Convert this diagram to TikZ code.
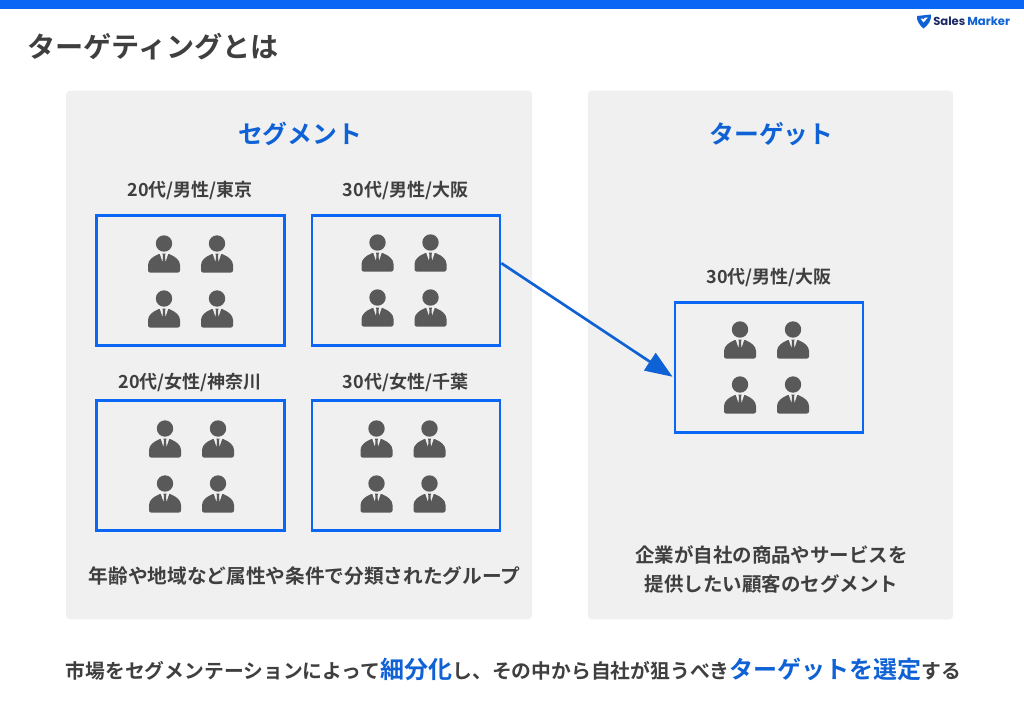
\documentclass[tikz,border=0pt]{standalone}
\usepackage{fontspec}
\setmainfont{Noto Sans CJK JP}[BoldFont={Noto Sans CJK JP Bold}]
\newfontfamily\logofont{Poppins}[BoldFont={Poppins Bold}]
\usetikzlibrary{arrows.meta}
\definecolor{topblue}{HTML}{0A66F5}
\definecolor{headblue}{HTML}{0F62D6}
\definecolor{panel}{HTML}{F0F0F0}
\definecolor{ink}{HTML}{3F3F3F}
\definecolor{figure}{HTML}{595959}
\definecolor{logonavy}{HTML}{1E2A66}
\tikzset{
  x=0.75pt,y=-0.75pt,
  panelbox/.style={fill=panel,draw=none,rounded corners=3pt,inner sep=0pt},
  groupbox/.style={draw=topblue,line width=1.8pt,fill=none,minimum width=141.2pt,minimum height=97.5pt,inner sep=0pt},
  grouplabel/.style={font=\bfseries\fontsize{13.5pt}{16pt}\selectfont,text=ink,inner sep=0pt},
  panelhead/.style={font=\bfseries\fontsize{18.6pt}{22pt}\selectfont,text=headblue,inner sep=0pt},
  bodytext/.style={font=\bfseries\fontsize{14.75pt}{22pt}\selectfont,text=ink,inner sep=0pt,align=center},
  flow/.style={draw=headblue,line width=2pt,-{Triangle[length=20.5pt,width=15.5pt]},shorten >=1pt},
  person/.pic={
    \fill[figure] (0,-8.5) circle[radius=8.2];
    \fill[figure,rounded corners=1.5pt] (-16,20.5) -- (-16,15)
      .. controls (-16,8) and (-11,4.5) .. (-4,1.5) -- (4,1.5)
      .. controls (11,4.5) and (16,8) .. (16,15) -- (16,20.5) -- cycle;
    \fill[panel] (-4.4,1.2) -- (4.4,1.2) -- (1.8,9) -- (-1.8,9) -- cycle;
    \fill[figure] (-1.6,1.5) -- (1.6,1.5) -- (1,4) -- (1.7,13) -- (0,16) -- (-1.7,13) -- (-1,4) -- cycle;
  }
}
\newcommand{\fourpeople}[2]{%
  \pic at (#1-26.5,#2) {person};
  \pic at (#1+26.5,#2) {person};
  \pic at (#1-26.5,#2+55) {person};
  \pic at (#1+26.5,#2+55) {person};
}
\begin{document}
\begin{tikzpicture}
\useasboundingbox (0,0) rectangle (1024,708);
\fill[white] (0,0) rectangle (1024,708);
\fill[topblue] (0,0) rectangle (1024,9);

% logo
\fill[headblue] (917,16) -- (931,14.5) .. controls (931.5,21) and (928,25) .. (923.5,28.5) .. controls (919.5,25) and (916.5,21) .. (917,16) -- cycle;
\fill[white] (920.5,18.5) -- (923.5,22.5) -- (928,17.5) -- (925,17.5) -- (923.5,19.5) -- (922.5,18.5) -- cycle;
\node[anchor=west,inner sep=0pt,font=\logofont\bfseries\fontsize{8.7pt}{11pt}\selectfont] (logo) at (933,21.5) {\textcolor{logonavy}{Sales}\hspace{1.5pt}\textcolor{headblue}{Marker}};

\node[anchor=west,inner sep=0pt,text=ink,font=\bfseries\fontsize{21.1pt}{24pt}\selectfont] (title) at (27,47) {ターゲティングとは};

% panels
\node[panelbox,minimum width=349.5pt,minimum height=396.5pt] (seg) at (299,355) {};
\node[panelbox,minimum width=274pt,minimum height=396.5pt] (tgt) at (770.5,355) {};

\node[panelhead] (seghead) at (300,134) {セグメント};
\node[panelhead] (tgthead) at (771.5,134) {ターゲット};

% group labels
\node[grouplabel] (l1) at (190,190) {20代/男性/東京};
\node[grouplabel] (l2) at (405.5,190) {30代/男性/大阪};
\node[grouplabel] (l3) at (190,382) {20代/女性/神奈川};
\node[grouplabel] (l4) at (405.5,382) {30代/女性/千葉};
\node[grouplabel] (l5) at (769,277) {30代/男性/大阪};

% group boxes
\node[groupbox] (b1) at (190.5,280.5) {};
\node[groupbox] (b2) at (406,280.5) {};
\node[groupbox] (b3) at (190.5,465.5) {};
\node[groupbox] (b4) at (406,465.5) {};
\node[groupbox] (b5) at (769,367.5) {};

\fourpeople{190.5}{252}
\fourpeople{404}{251}
\fourpeople{191.5}{437}
\fourpeople{403}{437}
\fourpeople{766.5}{338}

% connector
\coordinate (from) at ([yshift=13pt]b2.east);
\coordinate (to) at ([yshift=-7.5pt]b5.west);
\draw[flow] (from) -- (to);

\node[bodytext] (segtext) at (304.5,576) {年齢や地域など属性や条件で分類されたグループ};
\node[bodytext,font=\bfseries\fontsize{14.6pt}{22pt}\selectfont] (tgttext) at (771.5,569.5) {企業が自社の商品やサービスを\\提供したい顧客のセグメント};

\node[inner sep=0pt,text=ink,font=\bfseries\fontsize{14.85pt}{18pt}\selectfont] (summary) at (513.5,669)
 {市場をセグメンテーションによって{\fontsize{18pt}{18pt}\selectfont\textcolor{headblue}{細分化}}し、その中から自社が狙うべき{\fontsize{18pt}{18pt}\selectfont\textcolor{headblue}{ターゲットを選定}}する};
\end{tikzpicture}
\end{document}
